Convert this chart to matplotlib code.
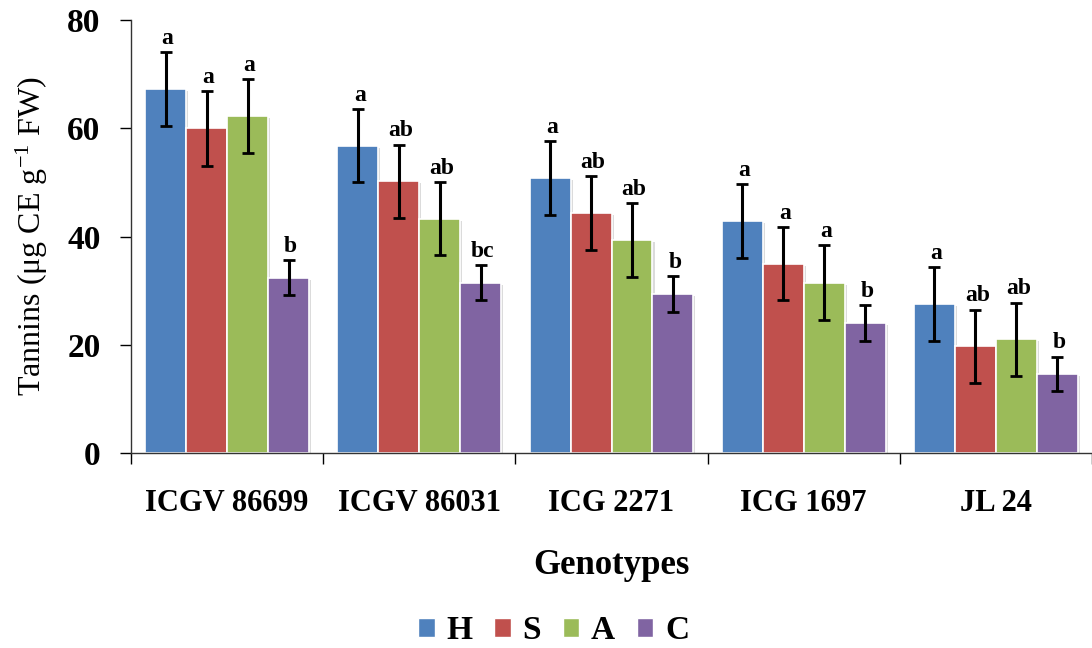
import matplotlib
matplotlib.use("Agg")
import matplotlib.pyplot as plt
import matplotlib.patheffects as pe
from matplotlib.patches import Patch
import numpy as np

genotypes = ["ICGV 86699", "ICGV 86031", "ICG 2271", "ICG 1697", "JL 24"]
series = ["H", "S", "A", "C"]
H_vals = [67.3, 56.8, 50.8, 42.9, 27.5]
S_vals = [60.0, 50.2, 44.3, 35.0, 19.7]
A_vals = [62.3, 43.3, 39.4, 31.5, 21.0]
C_vals = [32.4, 31.5, 29.4, 24.0, 14.6]
H_err = [6.8, 6.7, 6.8, 6.8, 6.8]
S_err = [6.9, 6.8, 6.8, 6.8, 6.8]
A_err = [6.8, 6.8, 6.8, 6.9, 6.8]
C_err = [3.3, 3.2, 3.3, 3.3, 3.2]
H_let = ["a", "a", "a", "a", "a"]
S_let = ["a", "ab", "ab", "a", "ab"]
A_let = ["a", "ab", "ab", "a", "ab"]
C_let = ["b", "bc", "b", "b", "b"]
colors = ["#4F81BD", "#C0504D", "#9BBB59", "#8064A2"]

values = [H_vals, S_vals, A_vals, C_vals]
errors = [H_err, S_err, A_err, C_err]
letters = [H_let, S_let, A_let, C_let]

serif = ["Liberation Serif", "DejaVu Serif"]
plt.rcParams['font.family'] = serif
plt.rcParams['mathtext.fontset'] = 'custom'
plt.rcParams['mathtext.rm'] = 'Liberation Serif'
plt.rcParams['mathtext.it'] = 'Liberation Serif:italic'
plt.rcParams['mathtext.bf'] = 'Liberation Serif:bold'

fig = plt.figure(figsize=(10.92, 6.48), dpi=100)
ax = fig.add_axes([0.12, 0.301, 0.88, 0.668])

x = np.arange(len(genotypes))
w = 0.213
shadow = [pe.SimplePatchShadow(offset=(1.5, -1.5), shadow_rgbFace="#999999", alpha=0.35), pe.Normal()]
for i in range(4):
    pos = x + (i - 1.5) * w
    bars = ax.bar(pos, values[i], width=w, color=colors[i], edgecolor="white", linewidth=1.2, zorder=2)
    for b in bars:
        b.set_path_effects(shadow)
    ax.errorbar(pos, values[i], yerr=errors[i], fmt="none", ecolor="black", elinewidth=2.2,
                capsize=4, capthick=2, zorder=3)
    for p, v, e, t in zip(pos, values[i], errors[i], letters[i]):
        ax.text(p + 0.01, v + e + 0.6, t, ha="center", va="bottom", fontsize=17,
                fontweight="bold", zorder=4)

ax.set_xlim(-0.5, 4.5)
ax.set_ylim(0, 80)
ax.set_yticks([0, 20, 40, 60, 80])
ax.set_yticklabels(["0", "20", "40", "60", "80"], fontsize=24, fontweight="bold")
ax.set_xticks(x)
ax.set_xticklabels(genotypes, fontsize=22, fontweight="bold")
ax.tick_params(axis="x", which="major", length=0, pad=26)
ax.set_xticks(np.arange(-0.5, 4.6, 1.0), minor=True)
ax.tick_params(axis="x", which="minor", length=8, width=1, direction="out")
ax.tick_params(axis="y", length=8, width=1, direction="out", pad=14)
ax.spines["top"].set_visible(False)
ax.spines["right"].set_visible(False)
for s in ["left", "bottom"]:
    ax.spines[s].set_linewidth(1.0)
    ax.spines[s].set_color("#333333")

ax.set_ylabel("Tannins (\u03bcg CE g$^{\\mathregular{-1}}$ FW)", fontsize=23, labelpad=12)
ax.set_xlabel("Genotypes", fontsize=25, fontweight="bold", labelpad=22)

handles = [Patch(facecolor=c, edgecolor="white") for c in colors]
leg = fig.legend(handles, series, loc="center", bbox_to_anchor=(0.507, 0.027), ncol=4,
                 frameon=False, prop={"family": serif, "weight": "bold", "size": 24},
                 handlelength=0.5, handleheight=0.5, handletextpad=0.35, columnspacing=0.65,
                 borderpad=0.1)

fig.savefig("out.png", dpi=100)
